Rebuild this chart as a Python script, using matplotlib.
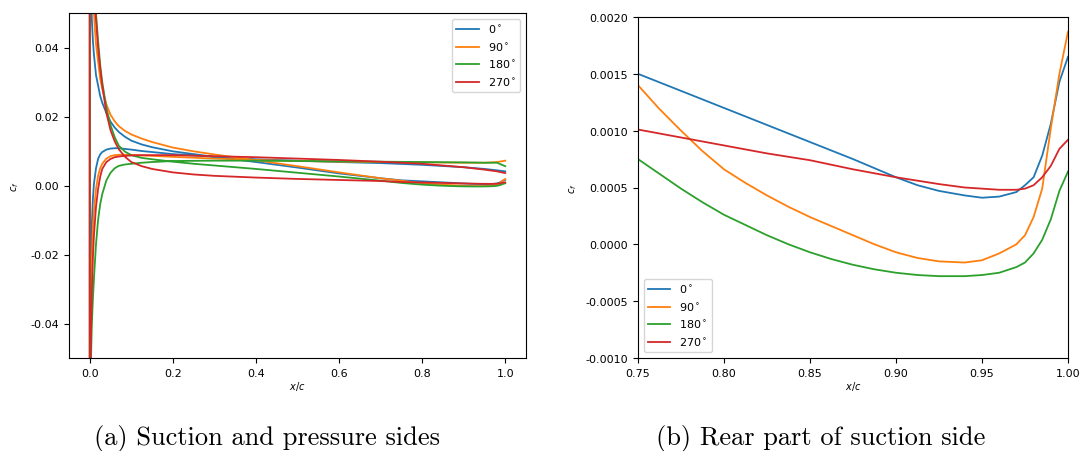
import matplotlib
matplotlib.use('Agg')
import matplotlib.pyplot as plt
from matplotlib.ticker import FormatStrFormatter

# angles and colours
labels = ['0$^\\circ$', '90$^\\circ$', '180$^\\circ$', '270$^\\circ$']
colors = ['tab:blue', 'tab:orange', 'tab:green', 'tab:red']

# suction side, front part + rear part
xs_front = [0.0, 0.003, 0.005, 0.0075, 0.01, 0.0125, 0.015, 0.02, 0.025, 0.03, 0.04, 0.05,
            0.06, 0.07, 0.085, 0.1, 0.125, 0.15, 0.2, 0.25, 0.3, 0.4, 0.5, 0.6, 0.7]
xs_rear = [0.75, 0.7625, 0.775, 0.7875, 0.8, 0.8125, 0.825, 0.8375, 0.85, 0.8625, 0.875, 0.8875,
           0.9, 0.9125, 0.925, 0.94, 0.95, 0.96, 0.97, 0.975, 0.98, 0.985, 0.99, 0.995, 1.0]

suc_front_0 = [0.15, 0.058, 0.048, 0.042, 0.038, 0.035, 0.032, 0.029, 0.026, 0.024, 0.021, 0.0185,
               0.0168, 0.0155, 0.0141, 0.0130, 0.0119, 0.0111, 0.0099, 0.0091, 0.0083, 0.0068,
               0.0052, 0.0035, 0.0021]
suc_front_90 = [0.15, 0.10, 0.082, 0.062, 0.050, 0.045, 0.041, 0.036, 0.031, 0.028, 0.0235, 0.0205,
                0.0186, 0.0172, 0.0158, 0.0148, 0.0136, 0.0126, 0.0110, 0.0099, 0.0090, 0.0073,
                0.0056, 0.0038, 0.0021]
suc_front_180 = [0.15, 0.11, 0.090, 0.075, 0.065, 0.056, 0.050, 0.042, 0.035, 0.030, 0.0225, 0.0175,
                 0.0140, 0.0115, 0.0098, 0.0088, 0.0080, 0.0076, 0.0069, 0.0063, 0.0058, 0.0048,
                 0.0037, 0.0026, 0.0014]
suc_front_270 = [0.15, 0.095, 0.075, 0.065, 0.058, 0.053, 0.048, 0.040, 0.034, 0.029, 0.021, 0.0160,
                 0.0128, 0.0105, 0.0083, 0.0068, 0.0056, 0.0048, 0.0038, 0.0032, 0.0028, 0.0023,
                 0.0019, 0.0016, 0.0013]

suc_rear_0 = [0.00150, 0.001425, 0.00135, 0.001275, 0.00120, 0.001125, 0.00105, 0.000975, 0.00090,
              0.000825, 0.00075, 0.00067, 0.00059, 0.00052, 0.00047, 0.00043, 0.00041, 0.00042,
              0.00046, 0.00052, 0.00059, 0.00078, 0.00106, 0.00143, 0.00165]
suc_rear_90 = [0.00140, 0.00119, 0.00100, 0.00082, 0.00066, 0.00054, 0.00043, 0.00033, 0.00024,
               0.00016, 0.00008, 0.00000, -0.00007, -0.00012, -0.00015, -0.00016, -0.00014,
               -0.00008, 0.00000, 0.00008, 0.00024, 0.00049, 0.00102, 0.00150, 0.00187]
suc_rear_180 = [0.00075, 0.00062, 0.00049, 0.00037, 0.00026, 0.00017, 0.00008, 0.00000, -0.00007,
                -0.00013, -0.00018, -0.00022, -0.00025, -0.00027, -0.00028, -0.00028, -0.00027,
                -0.00025, -0.00020, -0.00016, -0.00008, 0.00004, 0.00022, 0.00047, 0.00064]
suc_rear_270 = [0.00101, 0.000975, 0.00094, 0.000905, 0.00087, 0.000835, 0.00080, 0.00077, 0.00074,
                0.00070, 0.00066, 0.000625, 0.00059, 0.00056, 0.00053, 0.00050, 0.00049, 0.00048,
                0.00048, 0.00049, 0.00052, 0.00059, 0.00069, 0.00084, 0.00092]

# pressure side
xp = [0.0, 0.001, 0.002, 0.003, 0.005, 0.0075, 0.01, 0.015, 0.02, 0.025, 0.03, 0.04, 0.05, 0.06,
      0.07, 0.085, 0.1, 0.125, 0.15, 0.2, 0.3, 0.4, 0.5, 0.6, 0.7, 0.8, 0.9, 0.95, 0.98, 1.0]
pre_0 = [-0.15, -0.055, -0.033, -0.023, -0.011, -0.004, 0.0005, 0.0050, 0.0077, 0.0090, 0.0097,
         0.0104, 0.0107, 0.0108, 0.0108, 0.0106, 0.0104, 0.0100, 0.0097, 0.0091, 0.0083, 0.0076,
         0.0072, 0.0068, 0.0065, 0.0060, 0.0053, 0.0048, 0.0044, 0.0041]
pre_90 = [-0.15, -0.065, -0.045, -0.035, -0.022, -0.013, -0.0075, -0.001, 0.0028, 0.0050, 0.0063,
          0.0078, 0.0085, 0.0088, 0.0089, 0.0089, 0.0089, 0.0087, 0.0086, 0.0083, 0.0078, 0.0074,
          0.0071, 0.0069, 0.0068, 0.0067, 0.0066, 0.0066, 0.0068, 0.0072]
pre_180 = [-0.15, -0.08, -0.060, -0.050, -0.040, -0.033, -0.027, -0.017, -0.010, -0.0055, -0.0025,
           0.0015, 0.0037, 0.0050, 0.0057, 0.0061, 0.0063, 0.0066, 0.0068, 0.0071, 0.0072, 0.0072,
           0.0071, 0.0070, 0.0069, 0.0068, 0.0067, 0.0066, 0.0066, 0.0056]
pre_270 = [-0.15, -0.07, -0.052, -0.043, -0.031, -0.021, -0.0145, -0.0062, -0.0010, 0.0025, 0.0048,
           0.0068, 0.0077, 0.0082, 0.0084, 0.0086, 0.0087, 0.0088, 0.0088, 0.0088, 0.0085, 0.0082,
           0.0078, 0.0074, 0.0069, 0.0063, 0.0053, 0.0046, 0.0041, 0.0036]

suc_front = [suc_front_0, suc_front_90, suc_front_180, suc_front_270]
suc_rear = [suc_rear_0, suc_rear_90, suc_rear_180, suc_rear_270]
pre = [pre_0, pre_90, pre_180, pre_270]

plt.rcParams['font.size'] = 8

fig = plt.figure(figsize=(10.8, 4.52), dpi=100)
ax1 = fig.add_axes([69/1080, 93/452, 457/1080, 345/452])
ax2 = fig.add_axes([638/1080, 93/452, 430/1080, 341/452])

xs = xs_front + xs_rear
for i in range(4):
    ys = suc_front[i] + suc_rear[i]
    # trailing edge -> leading edge along suction side, then back along pressure side
    ax1.plot(xs[::-1] + xp, ys[::-1] + pre[i], color=colors[i], lw=1.3, label=labels[i])
    ax2.plot(xs_rear, suc_rear[i], color=colors[i], lw=1.3, label=labels[i])

ax1.set_xlim(-0.05, 1.05)
ax1.set_ylim(-0.05, 0.05)
ax1.set_xticks([0.0, 0.2, 0.4, 0.6, 0.8, 1.0])
ax1.set_yticks([-0.04, -0.02, 0.0, 0.02, 0.04])
ax1.yaxis.set_major_formatter(FormatStrFormatter('%.2f'))
ax1.set_xlabel('$x/c$', fontsize=7, labelpad=1)
ax1.set_ylabel('$c_f$', fontsize=7, labelpad=7)
ax1.legend(loc='upper right', fontsize=8)

ax2.set_xlim(0.75, 1.0)
ax2.set_ylim(-0.001, 0.002)
ax2.set_xticks([0.75, 0.80, 0.85, 0.90, 0.95, 1.00])
ax2.set_yticks([-0.001, -0.0005, 0.0, 0.0005, 0.001, 0.0015, 0.002])
ax2.yaxis.set_major_formatter(FormatStrFormatter('%.4f'))
ax2.set_xlabel('$x/c$', fontsize=7, labelpad=1)
ax2.set_ylabel('$c_f$', fontsize=7, labelpad=5)
ax2.legend(loc='lower left', fontsize=8)

fig.text(267/1080, 1 - 439/452, '(a) Suction and pressure sides', family='cmr10',
         fontsize=19, ha='center', va='center')
fig.text(821/1080, 1 - 439/452, '(b) Rear part of suction side', family='cmr10',
         fontsize=19, ha='center', va='center')

fig.savefig('out.png', dpi=100)
